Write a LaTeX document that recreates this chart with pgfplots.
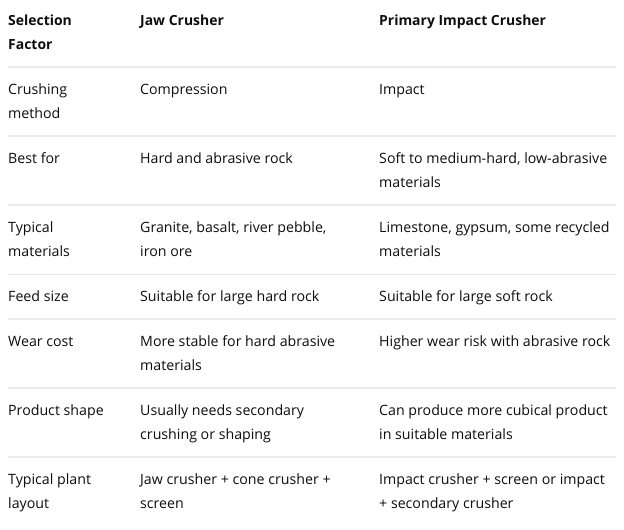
\documentclass[border=0pt]{standalone}
\usepackage{pgfplots}
\pgfplotsset{compat=1.18}
\usepackage{fontspec}
\setmainfont{Open Sans}
\definecolor{txt}{HTML}{0D0D0D}
\definecolor{rule}{HTML}{EAEAEA}
\begin{document}
\begin{tikzpicture}
\begin{axis}[
  width=624bp, height=530bp, scale only axis,
  xmin=0, xmax=624, ymin=0, ymax=530, y dir=reverse,
  hide axis, clip=false,
]
% separator rules
\addplot[rule, line width=1.2bp] coordinates {(8,67) (616,67)};
\addplot[rule, line width=1.2bp] coordinates {(8,136) (616,136)};
\addplot[rule, line width=1.2bp] coordinates {(8,205) (616,205)};
\addplot[rule, line width=1.2bp] coordinates {(8,274.5) (616,274.5)};
\addplot[rule, line width=1.2bp] coordinates {(8,319) (616,319)};
\addplot[rule, line width=1.2bp] coordinates {(8,388) (616,388)};
\addplot[rule, line width=1.2bp] coordinates {(8,457) (616,457)};
\tikzset{c/.style={anchor=base west, inner sep=0pt, text=txt, font=\fontsize{14.25}{16}\selectfont}}
% header
\node[c, font=\fontsize{14}{16}\selectfont\bfseries] at (axis cs:8,26) {Selection};
\node[c, font=\fontsize{14}{16}\selectfont\bfseries] at (axis cs:8,50) {Factor};
\node[c, font=\fontsize{14}{16}\selectfont\bfseries] at (axis cs:140,26) {Jaw Crusher};
\node[c, font=\fontsize{14}{16}\selectfont\bfseries] at (axis cs:379,26) {Primary Impact Crusher};
% row 1
\node[c] at (axis cs:8,95) {Crushing};
\node[c] at (axis cs:8,119) {method};
\node[c] at (axis cs:140,95) {Compression};
\node[c] at (axis cs:379,95) {Impact};
% row 2
\node[c] at (axis cs:8,164) {Best for};
\node[c] at (axis cs:140,164) {Hard and abrasive rock};
\node[c] at (axis cs:379,164) {Soft to medium-hard, low-abrasive};
\node[c] at (axis cs:379,188) {materials};
% row 3
\node[c] at (axis cs:8,233) {Typical};
\node[c] at (axis cs:8,257) {materials};
\node[c] at (axis cs:140,233) {Granite, basalt, river pebble,};
\node[c] at (axis cs:140,257) {iron ore};
\node[c] at (axis cs:379,233) {Limestone, gypsum, some recycled};
\node[c] at (axis cs:379,257) {materials};
% row 4
\node[c] at (axis cs:8,302) {Feed size};
\node[c] at (axis cs:140,302) {Suitable for large hard rock};
\node[c] at (axis cs:379,302) {Suitable for large soft rock};
% row 5
\node[c] at (axis cs:8,347) {Wear cost};
\node[c] at (axis cs:140,347) {More stable for hard abrasive};
\node[c] at (axis cs:140,371) {materials};
\node[c] at (axis cs:379,347) {Higher wear risk with abrasive rock};
% row 6
\node[c] at (axis cs:8,416) {Product shape};
\node[c] at (axis cs:140,416) {Usually needs secondary};
\node[c] at (axis cs:140,440) {crushing or shaping};
\node[c] at (axis cs:379,416) {Can produce more cubical product};
\node[c] at (axis cs:379,440) {in suitable materials};
% row 7
\node[c] at (axis cs:8,485) {Typical plant};
\node[c] at (axis cs:8,509) {layout};
\node[c] at (axis cs:140,485) {Jaw crusher + cone crusher +};
\node[c] at (axis cs:140,509) {screen};
\node[c] at (axis cs:379,485) {Impact crusher + screen or impact};
\node[c] at (axis cs:379,509) {+ secondary crusher};
\end{axis}
\path[use as bounding box] (current axis.south west) rectangle (current axis.north east);
\end{tikzpicture}
\end{document}
